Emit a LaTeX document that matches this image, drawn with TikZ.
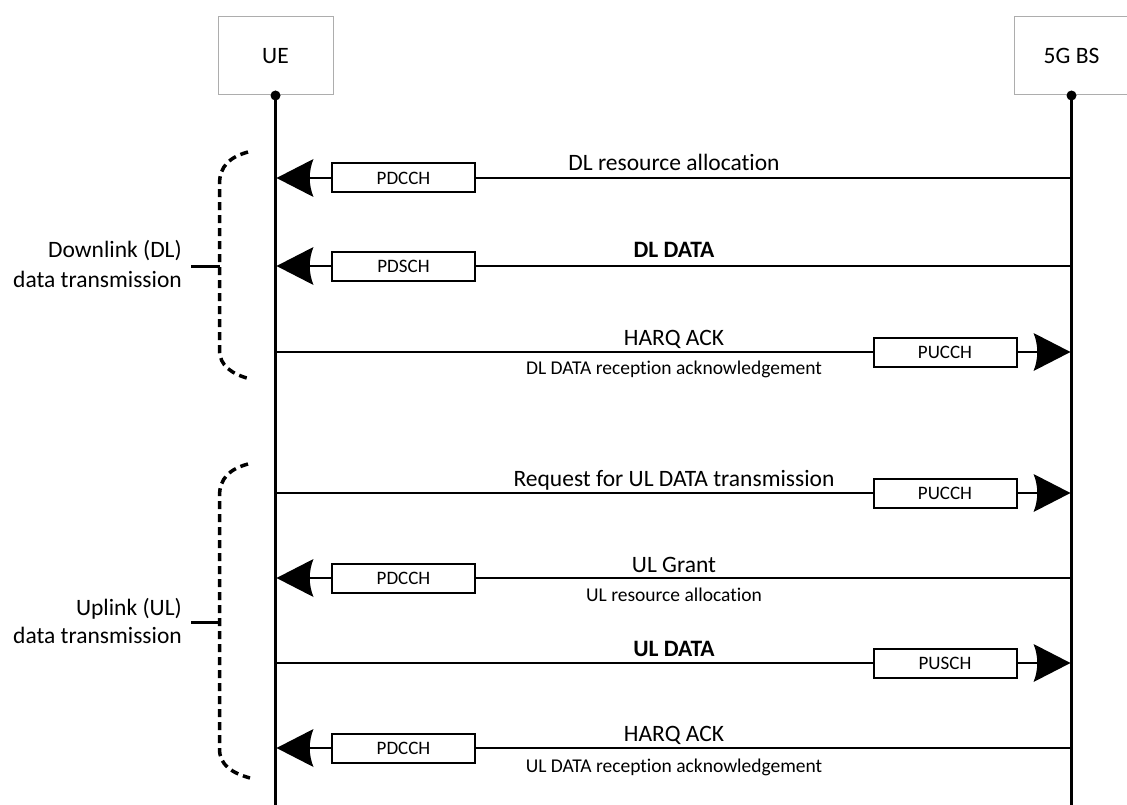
\documentclass[tikz,border=0pt]{standalone}
\usepackage{fontspec}
\setmainfont{Carlito}[Ligatures={NoCommon}]
\usetikzlibrary{arrows.meta}

% large filled head with a slightly hollowed back edge
\pgfdeclarearrow{
  name = HollowBackHead,
  setup code = {
    \pgfarrowssettipend{0pt}
    \pgfarrowssetbackend{-37pt}
    \pgfarrowssetlineend{-30pt}
    \pgfarrowshullpoint{0pt}{0pt}
    \pgfarrowsupperhullpoint{-37pt}{19pt}
  },
  drawing code = {
    \pgfpathmoveto{\pgfqpoint{0pt}{0pt}}
    \pgfpathlineto{\pgfqpoint{-37pt}{19pt}}
    \pgfpathcurveto{\pgfqpoint{-32pt}{7pt}}{\pgfqpoint{-32pt}{-7pt}}{\pgfqpoint{-37pt}{-19pt}}
    \pgfpathclose
    \pgfusepathqfill
  }
}

\begin{document}
\begin{tikzpicture}[x=1pt,y=-1pt,
  actor/.style={draw=black!32, line width=1pt, minimum width=115pt, minimum height=78pt,
    inner sep=0pt, font=\fontsize{23.5}{28}\selectfont},
  life/.style={line width=2.6pt},
  dotmark/.style={circle, fill=black, minimum size=10pt, inner sep=0pt},
  chan/.style={draw, line width=2pt, fill=white, minimum width=143pt, minimum height=29pt,
    inner sep=0pt, font=\fontsize{19}{22}\selectfont},
  msg/.style={line width=2pt},
  tipped/.style={-HollowBackHead},
  lbl/.style={anchor=base, inner sep=0pt, font=\fontsize{23.5}{28}\selectfont},
  sublbl/.style={anchor=base, inner sep=0pt, font=\fontsize{19.5}{23}\selectfont},
  grp/.style={anchor=base east, inner sep=0pt, font=\fontsize{23.5}{28}\selectfont},
  brace/.style={line width=3.5pt, dash pattern=on 8pt off 5pt},
  bracetick/.style={line width=3pt}
]
\useasboundingbox (0,0) rectangle (1127,805);

% entities and lifelines
\node[actor] (ue) at (275.5,56) {UE};
\node[actor] (bs) at (1071.5,56) {5G BS};
\node[dotmark] (uedot) at (ue.south) {};
\node[dotmark] (bsdot) at (bs.south) {};
\coordinate (ueend) at (275.5,805);
\coordinate (bsend) at (1071.5,805);
\draw[life] (uedot.center) -- (ueend);
\draw[life] (bsdot.center) -- (bsend);

% message anchor points on the lifelines
\foreach \k/\y in {1/178,2/266,3/352,4/493,5/578,6/663,7/748}{
  \coordinate (u\k) at (276.5,\y);
  \coordinate (b\k) at (1070.5,\y);
}

% 1: DL resource allocation (BS -> UE)
\node[chan] (c1) at (403.5,178) {PDCCH};
\draw[msg] (b1) -- (c1.east);
\draw[msg,tipped] (c1.west) -- (u1);
\node[lbl] (t1) at (674,171) {DL resource allocation};

% 2: DL data (BS -> UE)
\node[chan] (c2) at (403.5,266) {PDSCH};
\draw[msg] (b2) -- (c2.east);
\draw[msg,tipped] (c2.west) -- (u2);
\node[lbl] (t2) at (674,258) {\bfseries DL DATA};

% 3: HARQ ACK for DL data (UE -> BS)
\node[chan] (c3) at (945,352) {PUCCH};
\draw[msg] (u3) -- (c3.west);
\draw[msg,tipped] (c3.east) -- (b3);
\node[lbl] (t3) at (674,345) {HARQ ACK};
\node[sublbl] (s3) at (674,374) {DL DATA reception acknowledgement};

% 4: scheduling request (UE -> BS)
\node[chan] (c4) at (945,493) {PUCCH};
\draw[msg] (u4) -- (c4.west);
\draw[msg,tipped] (c4.east) -- (b4);
\node[lbl] (t4) at (674,486) {Request for UL DATA transmission};

% 5: UL grant (BS -> UE)
\node[chan] (c5) at (403.5,578) {PDCCH};
\draw[msg] (b5) -- (c5.east);
\draw[msg,tipped] (c5.west) -- (u5);
\node[lbl] (t5) at (674,572) {UL Grant};
\node[sublbl] (s5) at (674,601) {UL resource allocation};

% 6: UL data (UE -> BS)
\node[chan] (c6) at (945,663) {PUSCH};
\draw[msg] (u6) -- (c6.west);
\draw[msg,tipped] (c6.east) -- (b6);
\node[lbl] (t6) at (674,656) {\bfseries UL DATA};

% 7: HARQ ACK for UL data (BS -> UE)
\node[chan] (c7) at (403.5,748) {PDCCH};
\draw[msg] (b7) -- (c7.east);
\draw[msg,tipped] (c7.west) -- (u7);
\node[lbl] (t7) at (674,741) {HARQ ACK};
\node[sublbl] (s7) at (674,772) {UL DATA reception acknowledgement};

% downlink group brace
\coordinate (dtop) at (248,152);
\coordinate (dbot) at (250,379);
\coordinate (dmid) at (219.5,266);
\coordinate (dtick) at (191,266);
\draw[brace] (dtop) .. controls (230,157) and (219.5,166) .. (219.5,184)
  -- (219.5,350) .. controls (219.5,366) and (232,374) .. (dbot);
\draw[bracetick] (dtick) -- (dmid);
\node[grp] (dl1) at (182,258) {Downlink (DL)};
\node[grp] (dl2) at (182,287) {data transmission};

% uplink group brace
\coordinate (utop) at (248,464);
\coordinate (ubot) at (250,778);
\coordinate (umid) at (219.5,622);
\coordinate (utick) at (191,622);
\draw[brace] (utop) .. controls (230,469) and (219.5,478) .. (219.5,496)
  -- (219.5,749) .. controls (219.5,765) and (232,773) .. (ubot);
\draw[bracetick] (utick) -- (umid);
\node[grp] (ul1) at (182,615) {Uplink (UL)};
\node[grp] (ul2) at (182,643) {data transmission};
\end{tikzpicture}
\end{document}
